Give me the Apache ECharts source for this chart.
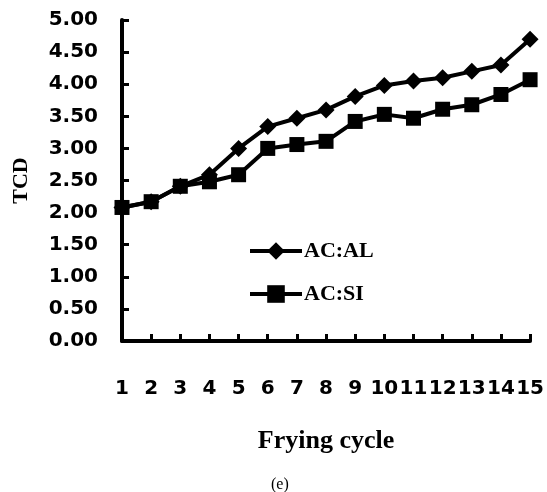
<!DOCTYPE html>
<html>
<head>
<meta charset="utf-8">
<script src="https://cdn.jsdelivr.net/npm/echarts@6/dist/echarts.min.js"></script>
<style>
  html, body { margin: 0; padding: 0; background: #fff; }
  #chart { width: 547px; height: 492px; }
</style>
</head>
<body>
<div id="chart"></div>
<script>
// TCD vs frying cycle, panel (e)
const cycles = ['1', '2', '3', '4', '5', '6', '7', '8', '9', '10', '11', '12', '13', '14', '15'];
const acAL = [2.08, 2.17, 2.41, 2.59, 3.00, 3.34, 3.47, 3.60, 3.81, 3.98, 4.05, 4.10, 4.20, 4.30, 4.70];
const acSI = [2.08, 2.17, 2.41, 2.48, 2.59, 3.00, 3.06, 3.11, 3.42, 3.53, 3.47, 3.61, 3.68, 3.84, 4.07];
const seriesNames = ['AC:AL', 'AC:SI'];

const sans = 'DejaVu Sans';
const serif = 'Liberation Serif';

const chart = echarts.init(document.getElementById('chart'));

chart.setOption({
  animation: false,
  backgroundColor: '#fff',
  title: {
    text: '(e)',
    left: 266,
    top: 472,
    textStyle: { fontFamily: serif, fontWeight: 'normal', fontSize: 16, color: '#000' },
  },
  legend: {
    orient: 'vertical',
    left: 243,
    top: 235,
    itemWidth: 52,
    itemHeight: 22,
    itemGap: 21,
    data: seriesNames,
    lineStyle: { width: 4, color: '#000' },
    textStyle: { fontFamily: serif, fontWeight: 'bold', fontSize: 22, color: '#000', padding: [0, 0, 0, -3] },
  },
  grid: { left: 122, right: 15, top: 20, bottom: 151 },
  xAxis: {
    type: 'category',
    data: cycles,
    boundaryGap: false,
    name: 'Frying cycle',
    nameLocation: 'middle',
    nameGap: 87,
    nameTextStyle: { fontFamily: serif, fontWeight: 'bold', fontSize: 26, color: '#000' },
    axisLine: { lineStyle: { color: '#000', width: 4 } },
    axisTick: { inside: true, length: 7, alignWithLabel: true, lineStyle: { color: '#000', width: 3 } },
    axisLabel: { interval: 0, margin: 38, fontFamily: sans, fontWeight: 'bold', fontSize: 20, color: '#000' },
    splitLine: { show: false },
  },
  yAxis: {
    type: 'value',
    min: 0,
    max: 5,
    interval: 0.5,
    name: 'TCD',
    nameLocation: 'middle',
    nameRotate: 90,
    nameGap: 90,
    nameTextStyle: { fontFamily: serif, fontWeight: 'bold', fontSize: 22, color: '#000' },
    axisLine: { show: true, lineStyle: { color: '#000', width: 4 } },
    axisTick: { show: true, inside: true, length: 7, lineStyle: { color: '#000', width: 3 } },
    axisLabel: {
      margin: 24,
      fontFamily: sans,
      fontWeight: 'bold',
      fontSize: 20,
      color: '#000',
      formatter: v => v.toFixed(2),
    },
    splitLine: { show: false },
  },
  series: [
    {
      name: seriesNames[0],
      type: 'line',
      data: acAL,
      symbol: 'diamond',
      symbolSize: 17,
      lineStyle: { color: '#000', width: 4 },
      itemStyle: { color: '#000' },
    },
    {
      name: seriesNames[1],
      type: 'line',
      data: acSI,
      symbol: 'rect',
      symbolSize: 15,
      lineStyle: { color: '#000', width: 4 },
      itemStyle: { color: '#000' },
    },
  ],
});
</script>
</body>
</html>
